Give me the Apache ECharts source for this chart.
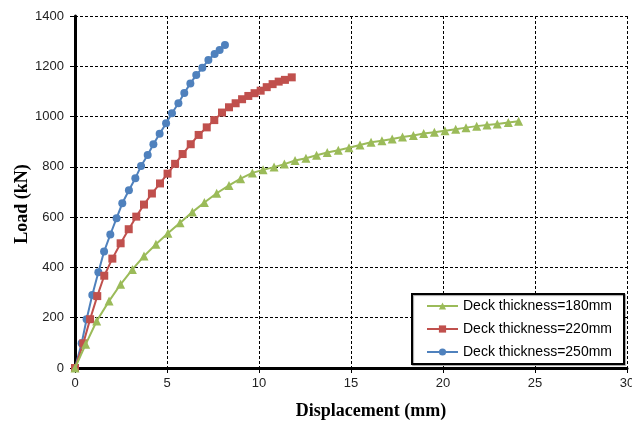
<!DOCTYPE html>
<html>
<head>
<meta charset="utf-8">
<script src="https://cdn.jsdelivr.net/npm/echarts@6/dist/echarts.min.js"></script>
<style>html,body{margin:0;padding:0;background:#fff}#c{width:632px;height:421px}</style>
</head>
<body>
<div id="c"></div>
<script>
const seriesNames = ['Deck thickness=180mm', 'Deck thickness=220mm', 'Deck thickness=250mm'];
const xTicks = [0, 5, 10, 15, 20, 25, 30];
const yTicks = [0, 200, 400, 600, 800, 1000, 1200, 1400];

const deck180 = [[0,0],[0.58,94],[1.18,187],[1.85,266],[2.48,333],[3.12,392],[3.75,445],[4.4,492],[5.05,536],[5.71,578],[6.38,620],[7.03,658],[7.7,695],[8.37,726],[9.0,753],[9.64,776],[10.22,788],[10.82,799],[11.38,811],[11.96,825],[12.55,834],[13.13,846],[13.71,857],[14.31,866],[14.89,876],[15.49,887],[16.09,898],[16.68,904],[17.24,911],[17.8,919],[18.39,925],[18.95,933],[19.53,938],[20.11,944],[20.69,950],[21.25,956],[21.83,962],[22.39,966],[22.95,970],[23.55,976],[24.11,981]];
const deck220 = [[0,0],[0.45,98],[0.82,194],[1.21,286],[1.59,367],[2.03,435],[2.48,496],[2.92,552],[3.33,602],[3.75,650],[4.18,694],[4.62,734],[5.03,773],[5.44,812],[5.85,851],[6.29,890],[6.72,927],[7.16,957],[7.57,986],[7.99,1016],[8.37,1037],[8.73,1053],[9.08,1069],[9.42,1082],[9.76,1093],[10.09,1103],[10.42,1117],[10.74,1129],[11.07,1139],[11.41,1146],[11.78,1156]];
const deck250 = [[0,0],[0.36,98],[0.63,194],[0.94,290],[1.27,381],[1.58,463],[1.92,531],[2.26,596],[2.57,655],[2.93,707],[3.28,755],[3.59,803],[3.95,847],[4.26,890],[4.6,932],[4.95,973],[5.27,1013],[5.62,1053],[5.94,1094],[6.27,1132],[6.59,1165],[6.92,1194],[7.25,1225],[7.59,1249],[7.86,1265],[8.15,1285]];

const colors = ['#9BBB59', '#C0504D', '#4F81BD'];
const symbols = ['triangle', 'rect', 'circle'];
const sizes = [9, 8, 8];
const datasets = [deck180, deck220, deck250];

const chart = echarts.init(document.getElementById('c'));
chart.setOption({
  animation: false,
  backgroundColor: '#fff',
  grid: { left: 75, right: 5, top: 16, bottom: 53, containLabel: false, outerBoundsMode: 'none' },
  xAxis: {
    type: 'value', min: xTicks[0], max: xTicks[xTicks.length - 1], interval: 5,
    name: 'Displacement (mm)', nameLocation: 'middle', nameGap: 34, nameMoveOverlap: false,
    nameTextStyle: { fontFamily: 'Liberation Serif', fontWeight: 'bold', fontSize: 18, color: '#000', padding: [0, 0, 0, 40] },
    axisLine: { lineStyle: { color: '#000', width: 3 } },
    axisTick: { show: true, length: 5, lineStyle: { color: '#000', width: 1 } },
    axisLabel: { fontFamily: 'Liberation Sans', fontSize: 13, color: '#222', margin: 9, formatter: v => String(v) },
    splitLine: { show: true, lineStyle: { color: '#000', type: [3, 2], width: 1 } }
  },
  yAxis: {
    type: 'value', min: yTicks[0], max: yTicks[yTicks.length - 1], interval: 200,
    name: 'Load (kN)', nameLocation: 'middle', nameGap: 44, nameMoveOverlap: false,
    nameTextStyle: { fontFamily: 'Liberation Serif', fontWeight: 'bold', fontSize: 18, color: '#000', padding: [0, 24, 0, 0] },
    axisLine: { show: true, lineStyle: { color: '#000', width: 3 } },
    axisTick: { show: true, length: 5, lineStyle: { color: '#000', width: 1 } },
    axisLabel: { fontFamily: 'Liberation Sans', fontSize: 13, color: '#222', margin: 11, formatter: v => String(v) },
    splitLine: { show: true, lineStyle: { color: '#000', type: [3, 2], width: 1 } }
  },
  legend: {
    orient: 'vertical', left: 412, top: 294,
    data: seriesNames,
    backgroundColor: '#fff', borderColor: '#000', borderWidth: 2,
    padding: [5, 12, 5, 14], itemGap: 9, itemWidth: 31, itemHeight: 9,
    textStyle: { fontFamily: 'Liberation Sans', fontSize: 14, color: '#000' },
    shadowColor: 'rgba(0,0,0,0.35)', shadowOffsetX: 1, shadowOffsetY: 1, shadowBlur: 1
  },
  series: datasets.map((d, i) => ({
    name: seriesNames[i], type: 'line', data: d,
    symbol: symbols[i], symbolSize: sizes[i], showAllSymbol: true,
    lineStyle: { color: colors[i], width: 2 },
    itemStyle: { color: colors[i] },
    z: 3 + (2 - i)
  }))
});
</script>
</body>
</html>
